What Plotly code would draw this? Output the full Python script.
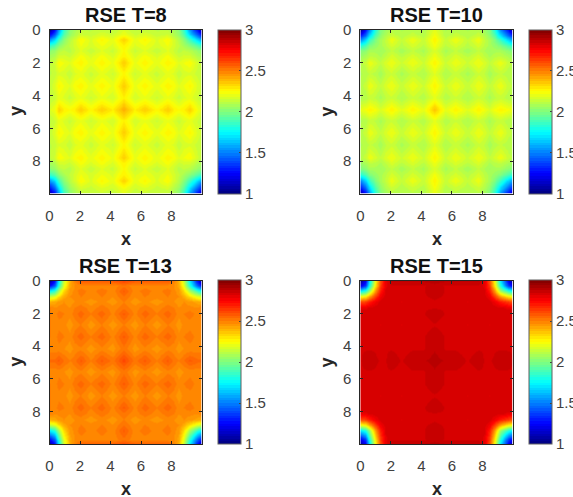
import plotly.graph_objects as go

W, H = 573, 497

# Node positions (axis units) of the value grids
x_nodes = [0, .3, .6, .95, 1.3, 1.65, 2, 2.7, 3.4, 4.15, 4.87, 5.55, 6.25, 7, 7.75, 8.1, 8.45, 8.8, 9.15, 9.68, 10]
y_nodes = [0, .3, .6, .95, 1.3, 1.65, 2, 2.7, 3.4, 4.15, 4.87, 5.55, 6.25, 7, 7.75, 8.1, 8.45, 8.8, 9.15, 9.68, 10]

titles = ["RSE T=8", "RSE T=10", "RSE T=13", "RSE T=15"]
axis_ticks = [0, 2, 4, 6, 8]
cbar_ticks = [1, 1.5, 2, 2.5, 3]
cbar_labels = ["1", "1.5", "2", "2.5", "3"]

# Top-left quadrant, centre row/column last
T8_quadrant = [
    [1.03, 1.25, 1.55, 1.85, 2.02, 2.08, 2.12, 2.12, 2.14, 2.12, 2.18],
    [1.25, 1.42, 1.68, 1.92, 2.05, 2.10, 2.16, 2.14, 2.18, 2.15, 2.22],
    [1.55, 1.68, 1.88, 2.02, 2.11, 2.17, 2.25, 2.18, 2.26, 2.20, 2.34],
    [1.85, 1.92, 2.02, 2.08, 2.13, 2.17, 2.22, 2.17, 2.22, 2.18, 2.28],
    [2.02, 2.05, 2.11, 2.13, 2.11, 2.15, 2.19, 2.13, 2.19, 2.14, 2.25],
    [2.08, 2.10, 2.17, 2.17, 2.15, 2.19, 2.24, 2.18, 2.24, 2.18, 2.28],
    [2.12, 2.16, 2.25, 2.22, 2.19, 2.24, 2.27, 2.20, 2.27, 2.21, 2.35],
    [2.12, 2.14, 2.18, 2.17, 2.13, 2.18, 2.20, 2.14, 2.20, 2.15, 2.26],
    [2.14, 2.18, 2.26, 2.22, 2.19, 2.24, 2.27, 2.20, 2.27, 2.21, 2.35],
    [2.12, 2.15, 2.20, 2.18, 2.14, 2.18, 2.21, 2.15, 2.21, 2.16, 2.28],
    [2.18, 2.22, 2.34, 2.28, 2.25, 2.28, 2.35, 2.26, 2.35, 2.28, 2.41],
]
T10_quadrant = [
    [1.03, 1.25, 1.52, 1.82, 2.00, 2.06, 2.11, 2.09, 2.11, 2.09, 2.20],
    [1.25, 1.42, 1.66, 1.90, 2.03, 2.09, 2.14, 2.10, 2.14, 2.10, 2.23],
    [1.52, 1.66, 1.86, 2.00, 2.08, 2.13, 2.22, 2.13, 2.22, 2.14, 2.27],
    [1.82, 1.90, 2.00, 2.05, 2.08, 2.12, 2.17, 2.11, 2.17, 2.12, 2.23],
    [2.00, 2.03, 2.08, 2.08, 2.06, 2.09, 2.13, 2.07, 2.13, 2.08, 2.18],
    [2.06, 2.09, 2.13, 2.12, 2.09, 2.13, 2.18, 2.12, 2.18, 2.12, 2.22],
    [2.11, 2.14, 2.22, 2.17, 2.13, 2.18, 2.22, 2.15, 2.22, 2.15, 2.27],
    [2.09, 2.10, 2.13, 2.11, 2.07, 2.12, 2.15, 2.08, 2.14, 2.09, 2.19],
    [2.11, 2.14, 2.22, 2.17, 2.13, 2.18, 2.22, 2.14, 2.22, 2.15, 2.27],
    [2.09, 2.10, 2.14, 2.12, 2.08, 2.12, 2.15, 2.09, 2.15, 2.10, 2.20],
    [2.20, 2.23, 2.27, 2.23, 2.18, 2.22, 2.27, 2.19, 2.27, 2.20, 2.37],
]
T13_quadrant = [
    [1.03, 1.25, 1.72, 2.15, 2.40, 2.50, 2.58, 2.58, 2.58, 2.58, 2.62],
    [1.25, 1.42, 1.82, 2.20, 2.42, 2.47, 2.48, 2.48, 2.48, 2.48, 2.52],
    [1.72, 1.82, 2.08, 2.32, 2.45, 2.48, 2.52, 2.48, 2.52, 2.48, 2.57],
    [2.15, 2.20, 2.32, 2.42, 2.47, 2.48, 2.50, 2.48, 2.50, 2.47, 2.53],
    [2.40, 2.42, 2.45, 2.47, 2.45, 2.47, 2.48, 2.45, 2.48, 2.45, 2.50],
    [2.50, 2.47, 2.48, 2.48, 2.47, 2.50, 2.52, 2.48, 2.52, 2.48, 2.52],
    [2.50, 2.48, 2.52, 2.50, 2.48, 2.52, 2.55, 2.50, 2.55, 2.49, 2.57],
    [2.50, 2.48, 2.48, 2.48, 2.45, 2.48, 2.50, 2.45, 2.50, 2.45, 2.50],
    [2.50, 2.48, 2.52, 2.50, 2.48, 2.52, 2.55, 2.50, 2.55, 2.49, 2.57],
    [2.48, 2.48, 2.48, 2.47, 2.45, 2.48, 2.49, 2.45, 2.49, 2.45, 2.52],
    [2.54, 2.54, 2.57, 2.53, 2.50, 2.52, 2.57, 2.50, 2.57, 2.52, 2.61],
]
T15_quadrant = [
    [1.03, 1.20, 1.70, 2.25, 2.60, 2.80, 2.88, 2.88, 2.88, 2.88, 2.90],
    [1.20, 1.35, 1.80, 2.30, 2.63, 2.80, 2.84, 2.84, 2.84, 2.84, 2.86],
    [1.70, 1.80, 2.05, 2.45, 2.70, 2.82, 2.84, 2.84, 2.84, 2.84, 2.87],
    [2.25, 2.30, 2.45, 2.65, 2.78, 2.83, 2.84, 2.84, 2.84, 2.84, 2.85],
    [2.60, 2.63, 2.70, 2.78, 2.83, 2.84, 2.84, 2.81, 2.84, 2.825, 2.84],
    [2.80, 2.80, 2.82, 2.83, 2.84, 2.84, 2.84, 2.84, 2.84, 2.84, 2.84],
    [2.84, 2.84, 2.84, 2.84, 2.84, 2.84, 2.84, 2.84, 2.84, 2.84, 2.87],
    [2.84, 2.84, 2.84, 2.84, 2.81, 2.84, 2.84, 2.81, 2.84, 2.825, 2.84],
    [2.84, 2.84, 2.84, 2.84, 2.84, 2.84, 2.84, 2.84, 2.84, 2.84, 2.87],
    [2.84, 2.84, 2.84, 2.84, 2.825, 2.84, 2.84, 2.825, 2.84, 2.84, 2.87],
    [2.84, 2.86, 2.87, 2.85, 2.84, 2.84, 2.87, 2.84, 2.87, 2.87, 2.89],
]
quadrants = [T8_quadrant, T10_quadrant, T13_quadrant, T15_quadrant]


def mirrored(q):
    rows = [r + r[-2::-1] for r in q]
    return rows + rows[-2::-1]


def jet64():
    out = []
    for i in range(64):
        t = (i + .5) / 64
        f = lambda c: max(0, min(1, 1.5 - abs(4 * t - c)))
        col = "rgb(%d,%d,%d)" % (255 * f(3), 255 * f(2), 255 * f(1))
        out += [[i / 64, col], [(i + 1) / 64, col]]
    return out


JET = jet64()
INK = "#404040"
FONT = "Liberation Sans, Arial, sans-serif"
panels = [
    (49.5, 201.7, 29.5, 193.5, 218.3, 241.7),
    (360.3, 512.7, 29.5, 193.5, 529, 552.3),
    (49.5, 201.7, 280.5, 444, 218.3, 241.7),
    (360.3, 512.7, 280.5, 444, 529, 552.3),
]

fig = go.Figure()
layout = dict(
    width=W, height=H, autosize=False, margin=dict(l=0, r=0, t=0, b=0, autoexpand=False),
    paper_bgcolor="white", plot_bgcolor="white", showlegend=False,
    font=dict(family=FONT, size=15, color=INK),
)
annotations = []
for i, (q, title, p) in enumerate(zip(quadrants, titles, panels)):
    x0, x1, y0, y1, c0, c1 = p
    n = "" if i == 0 else str(i + 1)
    fig.add_trace(go.Heatmap(
        x=x_nodes, y=y_nodes, z=mirrored(q), zsmooth="best",
        colorscale=JET, zmin=1, zmax=3, xaxis="x" + n, yaxis="y" + n,
        colorbar=dict(
            x=c0 / W, xanchor="left", xpad=0, ypad=0,
            y=1 - y1 / H, yanchor="bottom", len=(y1 - y0) / H, lenmode="fraction",
            thickness=c1 - c0, thicknessmode="pixels",
            tickmode="array", tickvals=cbar_ticks, ticktext=cbar_labels,
            ticks="inside", ticklen=2, tickcolor=INK, tickwidth=1,
            outlinecolor="#606060", outlinewidth=1,
            tickfont=dict(family=FONT, size=15, color=INK),
        ),
    ))
    common = dict(
        tickmode="array", tickvals=axis_ticks, ticks="inside", ticklen=3, tickwidth=1,
        tickcolor="#262626", showline=True, linecolor="#262626", linewidth=1, mirror="ticks",
        showgrid=False, zeroline=False, tickfont=dict(family=FONT, size=15, color=INK),
    )
    layout["xaxis" + n] = dict(
        common, domain=[x0 / W, x1 / W], range=[0, 9.98], anchor="y" + n,
        ticklabelstandoff=8,
    )
    layout["yaxis" + n] = dict(
        common, domain=[1 - y1 / H, 1 - y0 / H], range=[9.96, 0], anchor="x" + n,
        ticklabelstandoff=5,
    )
    cx = (x0 + x1) / 2
    annotations.append(dict(text="<b>%s</b>" % title, x=cx / W, y=1 - (y0 - 15) / H, xref="paper", yref="paper",
                            showarrow=False, font=dict(family=FONT, size=20, color="#111111"),
                            xanchor="center", yanchor="middle"))
    annotations.append(dict(text="<b>x</b>", x=cx / W, y=1 - (y1 + 45) / H, xref="paper", yref="paper",
                            showarrow=False, font=dict(family=FONT, size=18, color="#262626"),
                            xanchor="center", yanchor="middle"))
    annotations.append(dict(text="<b>y</b>", x=(x0 - 33) / W, y=1 - ((y0 + y1) / 2) / H, xref="paper", yref="paper",
                            showarrow=False, textangle=-90, font=dict(family=FONT, size=18, color="#262626"),
                            xanchor="center", yanchor="middle"))
layout["annotations"] = annotations
fig.update_layout(**layout)
fig.write_html("out.html", config=dict(displayModeBar=False), post_script="document.body.style.margin='0';")
